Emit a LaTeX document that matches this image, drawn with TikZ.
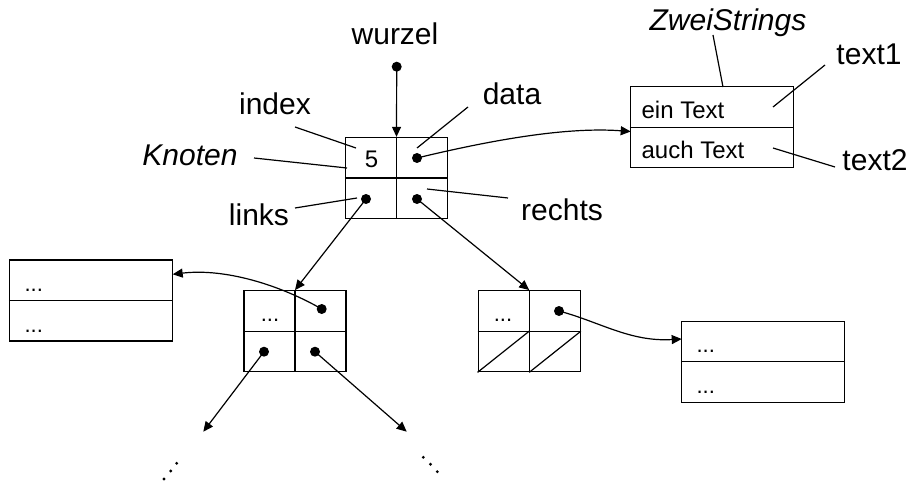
\documentclass[tikz,border=0pt]{standalone}
\usepackage{fontspec}
\setmainfont{Liberation Sans}
\usetikzlibrary{arrows.meta}
\begin{document}
\begin{tikzpicture}[x=1pt,y=-1pt,line width=1.2pt,
  lbl/.style={font=\fontsize{30}{36}\selectfont, inner sep=0pt},
  celltxt/.style={font=\fontsize{24}{28}\selectfont, inner sep=0pt},
  ell/.style={font=\fontsize{22}{26}\selectfont, inner sep=0pt},
  quadbox/.style={draw, line width=1.3pt, minimum width=102pt, minimum height=81pt, inner sep=0pt},
  pairbox/.style={draw, line width=1.3pt, minimum width=163pt, minimum height=81pt, inner sep=0pt},
  divider/.style={line width=1.3pt},
  ptr/.style={-{Triangle[length=10pt,width=9pt]}},
  ptrdot/.style={circle, fill, inner sep=0pt, minimum size=10pt},
  tinydot/.style={circle, fill, inner sep=0pt, minimum size=3.2pt},
  leader/.style={line width=1.2pt}]
\useasboundingbox (0,0) rectangle (920,481);

% boxes
\node[quadbox] (root) at (396.5,178) {};
\draw[divider] (root.north) -- (root.south) (root.west) -- (root.east);
\node[quadbox] (nA) at (295,331.2) {};
\draw[divider] (nA.north) -- (nA.south) (nA.west) -- (nA.east);
\node[quadbox] (nB) at (529.2,331.2) {};
\draw[divider] (nB.north) -- (nB.south) (nB.west) -- (nB.east);
\draw[line width=1.2pt] (nB.south west) -- (nB.center) (nB.south) -- (nB.east);
\node[pairbox] (zs) at (711.8,127.2) {};
\draw[divider] (zs.west) -- (zs.east);
\node[pairbox] (bl) at (91,300.5) {};
\draw[divider] (bl.west) -- (bl.east);
\node[pairbox] (br) at (763.3,361.7) {};
\draw[divider] (br.west) -- (br.east);

% cell texts
\node[celltxt] (five) at (371.5,159) {5};
\node[celltxt, anchor=west] (ein) at (641,110) {ein Text};
\node[celltxt, anchor=west] (auch) at (641,150) {auch Text};
\node[ell, anchor=base] (eA) at (270,321) {...};
\node[ell, anchor=base] (eB) at (503,321) {...};
\node[ell, anchor=base west] (eL1) at (24,291) {...};
\node[ell, anchor=base west] (eL2) at (24,332) {...};
\node[ell, anchor=base west] (eR1) at (696,352) {...};
\node[ell, anchor=base west] (eR2) at (696,393) {...};

% labels
\node[lbl] (wurzel) at (395,34) {wurzel};
\node[lbl] (index) at (275,104) {index};
\node[lbl] (knoten) at (190,155.5) {\itshape Knoten};
\node[lbl] (links) at (259,215) {links};
\node[lbl] (data) at (512,93.5) {data};
\node[lbl] (rechts) at (562,210) {rechts};
\node[lbl, anchor=base] (zwei) at (728,31) {\itshape ZweiStrings};
\node[lbl] (text1) at (869,54) {text1};
\node[lbl] (text2) at (875,160) {text2};

% leader line ends
\coordinate (iS) at (295,127);   \coordinate (iE) at (356,148);
\coordinate (kS) at (254,158);   \coordinate (kE) at (347,168);
\coordinate (lS) at (295,208);   \coordinate (lE) at (357,198);
\coordinate (dS) at (468,107);   \coordinate (dE) at (417,148);
\coordinate (rS) at (508,198);   \coordinate (rE) at (427,189);
\coordinate (zS) at (713,35);    \coordinate (zE) at (723,87);
\coordinate (t1S) at (825,65);   \coordinate (t1E) at (773,107);
\coordinate (t2S) at (835,167);  \coordinate (t2E) at (773,148);
\draw[leader] (iS) -- (iE);
\draw[leader] (kS) -- (kE);
\draw[leader] (lS) -- (lE);
\draw[leader] (dS) -- (dE);
\draw[leader] (rS) -- (rE);
\draw[leader] (zS) -- (zE);
\draw[leader] (t1S) -- (t1E);
\draw[leader] (t2S) -- (t2E);

% pointer dots
\node[ptrdot] (wd) at (396.7,66.7) {};
\node[ptrdot] (rdata) at (417,158) {};
\node[ptrdot] (rl) at (366,199) {};
\node[ptrdot] (rr) at (417,199) {};
\node[ptrdot] (Ad) at (321.7,309) {};
\node[ptrdot] (Al) at (264,351.7) {};
\node[ptrdot] (Ar) at (315,351.7) {};
\node[ptrdot] (Bd) at (559,311) {};

% arrow targets
\coordinate (zsin) at (630.7,131.5);
\coordinate (blin) at (172.7,274.3);
\coordinate (brin) at (681.7,339);
\coordinate (downL) at (203.3,431.7);
\coordinate (downR) at (406.7,431.7);

% pointers
\draw[ptr] (wd.center) -- (root.north);
\draw[ptr] (rl.center) -- (nA.north);
\draw[ptr] (rr.center) -- (nB.north);
\draw[ptr] (Al.center) -- (downL);
\draw[ptr] (Ar.center) -- (downR);
\draw[ptr] (rdata.center) .. controls (500,138) and (570,127) .. (zsin);
\draw[ptr] (Ad.center) .. controls (280,285) and (225,268) .. (blin);
\draw[ptr] (Bd.center) .. controls (600,322) and (630,342) .. (brin);

% continuation dots
\node[tinydot] (cl1) at (164,479) {};
\node[tinydot] (cl2) at (170.7,471) {};
\node[tinydot] (cl3) at (176.7,463.3) {};
\node[tinydot] (cr1) at (423.3,457.3) {};
\node[tinydot] (cr2) at (430.5,464.3) {};
\node[tinydot] (cr3) at (437.3,471.7) {};
\end{tikzpicture}
\end{document}
